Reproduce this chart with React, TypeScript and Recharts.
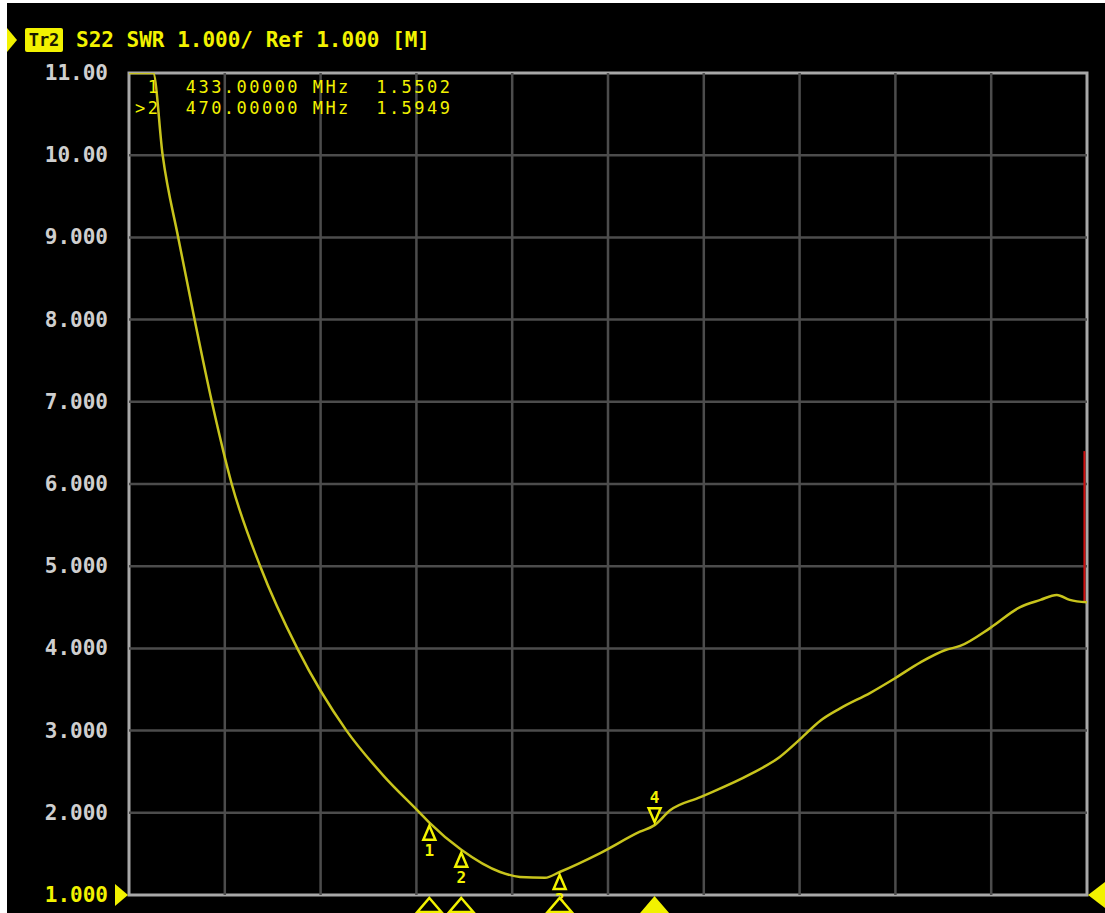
import React from 'react';
import { LineChart, Line, XAxis, YAxis, ReferenceLine, ReferenceArea, ReferenceDot } from 'recharts';

const FREQ = [85, 113, 124, 142, 161, 181, 204, 237, 280, 337, 380, 422, 433, 470, 515, 538, 567, 584, 631, 677, 694, 712, 747, 805, 839, 863, 886, 909, 944, 973, 1002, 1031, 1048, 1083, 1117, 1141, 1160, 1175, 1195];
const SWR = [11, 11, 10.0, 9.0, 8.0, 7.0, 6.0, 5.0, 4.0, 3.0, 2.45, 2.0, 1.88, 1.55, 1.28, 1.22, 1.21, 1.28, 1.51, 1.77, 1.85, 2.03, 2.19, 2.47, 2.68, 2.9, 3.12, 3.27, 3.46, 3.64, 3.83, 3.98, 4.03, 4.25, 4.5, 4.59, 4.65, 4.59, 4.56];

const X_START = 85;
const X_STOP = 1195;
const GRID_X = [196, 307, 418, 529, 640, 751, 862, 973, 1084];
const Y_TICKS = [1, 2, 3, 4, 5, 6, 7, 8, 9, 10, 11];
const Y_LABELS = ['1.000', '2.000', '3.000', '4.000', '5.000', '6.000', '7.000', '8.000', '9.000', '10.00', '11.00'];
const GRID_Y = [2, 3, 4, 5, 6, 7, 8, 9, 10];

const MARKER_IDS = [1, 2, 3, 4];
const MARKER_FREQ = [433, 470, 584, 694];
const MARKER_VAL = [1.88, 1.55, 1.28, 1.85];
const ACTIVE_MARKER = 4;

const HEADER = 'S22 SWR 1.000/ Ref 1.000 [M]';
const TRACE_NAME = 'Tr2';
const LIST_LINES = [' 1  433.00000 MHz  1.5502', '>2  470.00000 MHz  1.5949'];

const RED_LINE_X = 1192;
const RED_LINE_Y = [4.56, 6.4];

const data = FREQ.map((f, i) => ({ f, swr: SWR[i] }));

const YELLOW = '#f2f200';
const TRACE = '#c8c41c';
const FRAME = '#a8a8a8';
const GRID = '#4c4c4c';
const LABEL = '#cfcfcf';
const MONO = '"DejaVu Sans Mono", "Liberation Mono", monospace';

const YTick = (props: any) => {
  const { x, y, payload } = props;
  const idx = Y_TICKS.indexOf(payload.value);
  const isRef = payload.value === 1;
  return (
    <g>
      <text x={x - 21} y={y} textAnchor="end" dominantBaseline="central" fontFamily={MONO} fontWeight="bold" fontSize={21} fill={isRef ? YELLOW : LABEL}>
        {Y_LABELS[idx]}
      </text>
      {isRef && <polygon points={`${x - 14},${y - 11} ${x - 1},${y} ${x - 14},${y + 11}`} fill={YELLOW} />}
    </g>
  );
};

const XTick = (props: any) => {
  const { x, y, payload } = props;
  const idx = MARKER_FREQ.indexOf(payload.value);
  const active = MARKER_IDS[idx] === ACTIVE_MARKER;
  return (
    <polygon
      points={`${x},${y + 3} ${x + 12},${y + 17} ${x - 12},${y + 17}`}
      fill={active ? YELLOW : '#000'}
      stroke={YELLOW}
      strokeWidth={2.5}
    />
  );
};

const makeMarkerShape = (id: number) => (props: any) => {
  const { cx, cy } = props;
  const above = id === ACTIVE_MARKER;
  if (above) {
    return (
      <g>
        <polygon points={`${cx},${cy - 3} ${cx + 6},${cy - 17} ${cx - 6},${cy - 17}`} fill="#000" stroke={YELLOW} strokeWidth={2.5} />
        <text x={cx} y={cy - 28} textAnchor="middle" dominantBaseline="central" fontFamily={MONO} fontWeight="bold" fontSize={16} fill={YELLOW}>{id}</text>
      </g>
    );
  }
  return (
    <g>
      <polygon points={`${cx},${cy + 3} ${cx + 6},${cy + 17} ${cx - 6},${cy + 17}`} fill="#000" stroke={YELLOW} strokeWidth={2.5} />
      <text x={cx} y={cy + 28} textAnchor="middle" dominantBaseline="central" fontFamily={MONO} fontWeight="bold" fontSize={16} fill={YELLOW}>{id}</text>
    </g>
  );
};

const RightRef = (props: any) => {
  const { cx, cy } = props;
  return <polygon points={`${cx + 1},${cy} ${cx + 18},${cy - 13} ${cx + 18},${cy + 13}`} fill={YELLOW} />;
};

export default function App() {
  return (
    <div style={{ position: 'absolute', left: 7, top: 3, width: 1098, height: 910, background: '#000', overflow: 'hidden' }}>
      <svg width={1098} height={70} style={{ position: 'absolute', left: 0, top: 0 }}>
        <polygon points="0,25 10,37 0,49" fill={YELLOW} />
        <rect x={18} y={25} width={38} height={24} rx={2} fill={YELLOW} />
        <text x={37} y={37} textAnchor="middle" dominantBaseline="central" fontFamily={MONO} fontWeight="bold" fontSize={17} fill="#1a1a00">{TRACE_NAME}</text>
        <text x={69} y={37} dominantBaseline="central" fontFamily={MONO} fontWeight="bold" fontSize={21} fill={YELLOW} style={{ whiteSpace: 'pre' }}>{HEADER}</text>
      </svg>
      <LineChart width={1098} height={910} data={data} margin={{ top: 70, right: 18, bottom: 0, left: 0 }}>
        <XAxis
          dataKey="f"
          type="number"
          domain={[X_START, X_STOP]}
          ticks={MARKER_FREQ}
          tick={<XTick />}
          tickSize={0}
          tickMargin={0}
          axisLine={false}
          tickLine={false}
          height={18}
          allowDataOverflow
          interval={0}
        />
        <YAxis
          type="number"
          domain={[1, 11]}
          ticks={Y_TICKS}
          tick={<YTick />}
          tickSize={0}
          tickMargin={0}
          axisLine={false}
          tickLine={false}
          width={122}
          allowDataOverflow
          interval={0}
        />
        {GRID_X.map((v) => (
          <ReferenceLine key={'gx' + v} x={v} stroke={GRID} strokeWidth={2.5} />
        ))}
        {GRID_Y.map((v) => (
          <ReferenceLine key={'gy' + v} y={v} stroke={GRID} strokeWidth={2.5} />
        ))}
        <ReferenceArea x1={X_START} x2={X_STOP} y1={1} y2={11} fill="none" stroke={FRAME} strokeWidth={3} />
        <ReferenceLine
          segment={[{ x: RED_LINE_X, y: RED_LINE_Y[0] }, { x: RED_LINE_X, y: RED_LINE_Y[1] }]}
          stroke="#d01010"
          strokeWidth={2}
        />
        <Line type="monotone" dataKey="swr" stroke={TRACE} strokeWidth={2.5} dot={false} isAnimationActive={false} />
        {MARKER_IDS.map((id, i) => (
          <ReferenceDot key={'m' + id} x={MARKER_FREQ[i]} y={MARKER_VAL[i]} r={0} shape={makeMarkerShape(id)} ifOverflow="visible" />
        ))}
        <ReferenceDot x={X_STOP} y={1} r={0} shape={<RightRef />} ifOverflow="visible" />
      </LineChart>
      <svg width={600} height={56} style={{ position: 'absolute', left: 0, top: 70 }}>
        {LIST_LINES.map((t, i) => (
          <text key={i} x={128} y={14 + i * 21} dominantBaseline="central" fontFamily={MONO} fontSize={17} letterSpacing={2.46} fill={YELLOW} style={{ whiteSpace: 'pre' }}>
            {t}
          </text>
        ))}
      </svg>
    </div>
  );
}
